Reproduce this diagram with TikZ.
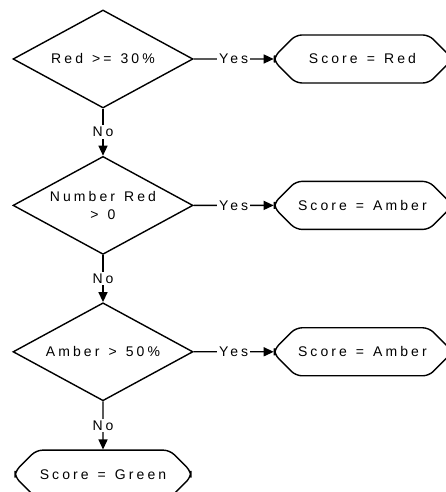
\documentclass[tikz,border=0pt]{standalone}
\usepackage{fontspec}
\setmainfont{Liberation Sans}[LetterSpace=22,WordSpace=1.3]
\usetikzlibrary{arrows.meta,shapes.geometric,shapes.misc,positioning}
\tikzset{
    decision/.style={diamond, aspect=1.84, draw, line width=1.4pt, minimum width=180pt, minimum height=98pt, inner sep=0pt, align=center, font=\fontsize{14}{18}\selectfont},
    score/.style={chamfered rectangle, draw, line width=1.4pt, chamfered rectangle xsep=17pt, chamfered rectangle ysep=13pt, minimum width=176pt, minimum height=48pt, rounded corners=6pt, font=\fontsize{14}{18}\selectfont},
    flow/.style={draw, line width=1.4pt, -{Triangle[length=10pt,width=9pt]}},
    answer/.style={fill=white, inner sep=2pt, font=\fontsize{14}{18}\selectfont}
}
\begin{document}
\begin{tikzpicture}[x=1pt,y=1pt,node distance=47pt]
    \useasboundingbox (0,0) rectangle (445,492);
    % decisions down the left
    \node[decision] (red) at (103,433) {Red >= 30\%};
    \node[decision, below=of red] (nred) {Number Red\\> 0};
    \node[decision, below=of nred] (amber) {Amber > 50\%};
    \node[score, below=48pt of amber] (green) {Score = Green};
    % scores on the right
    \node[score, right=80pt of red] (sred) {Score = Red};
    \node[score, right=80pt of nred] (snred) {Score = Amber};
    \node[score, right=80pt of amber] (samber) {Score = Amber};
    % connectors
    \draw[flow] (red) -- node[answer]{Yes} (sred);
    \draw[flow] (nred) -- node[answer]{Yes} (snred);
    \draw[flow] (amber) -- node[answer]{Yes} (samber);
    \draw[flow] (red) -- node[answer]{No} (nred);
    \draw[flow] (nred) -- node[answer]{No} (amber);
    \draw[flow] (amber) -- node[answer]{No} (green);
\end{tikzpicture}
\end{document}
